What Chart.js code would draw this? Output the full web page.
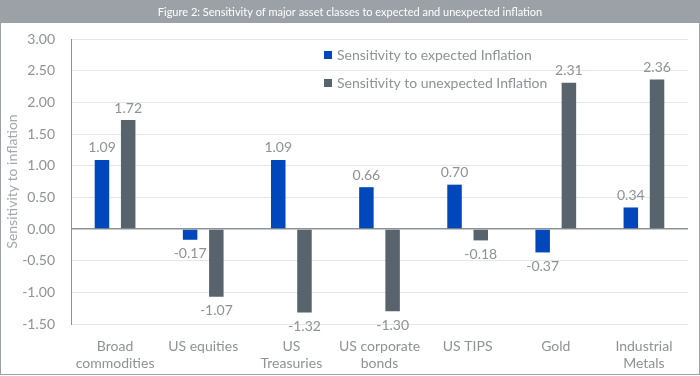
<!DOCTYPE html>
<html>
<head>
<meta charset="utf-8">
<script src="https://cdn.jsdelivr.net/npm/chart.js@4/dist/chart.umd.min.js"></script>
<style>
    html, body { margin: 0; padding: 0; background: #fff; }
    #wrap { width: 700px; height: 376px; position: relative; }
</style>
</head>
<body>
<div id="wrap"><canvas id="inflationChart" width="700" height="376"></canvas></div>
<script>
const chartTitle = 'Figure 2: Sensitivity of major asset classes to expected and unexpected inflation';
const categories = [
    ['Broad', 'commodities'], 'US equities', ['US', 'Treasuries'], ['US corporate', 'bonds'],
    'US TIPS', 'Gold', ['Industrial', 'Metals']
];
const seriesNames = ['Sensitivity to expected Inflation', 'Sensitivity to unexpected Inflation'];
const expectedValues = [1.09, -0.17, 1.09, 0.66, 0.70, -0.37, 0.34];
const unexpectedValues = [1.72, -1.07, -1.32, -1.30, -0.18, 2.31, 2.36];
const yTitle = 'Sensitivity to inflation';

const textGrey = '#8d9297';
const fontFamily = 'Lato, "Open Sans", sans-serif';

// Banner, frame and legend drawn by hand
const framePlugin = {
    id: 'frame',
    beforeDraw(chart) {
        const c = chart.ctx;
        c.save();
        c.fillStyle = '#fff';
        c.fillRect(0, 0, chart.width, chart.height);
        c.fillStyle = '#9ba1a7';
        c.fillRect(0, 0, chart.width, 23);
        c.fillStyle = '#7f858b';
        c.fillRect(0, 0, chart.width, 1);
        c.fillStyle = '#fff';
        c.font = '11px ' + fontFamily;
        c.textAlign = 'center';
        c.textBaseline = 'middle';
        c.fillText(chartTitle, 350, 12);
        c.strokeStyle = '#9ba1a7';
        c.lineWidth = 1;
        c.strokeRect(0.5, 0.5, chart.width - 1, chart.height - 2);
        c.restore();
    },
    afterDatasetsDraw(chart) {
        const c = chart.ctx;
        c.save();
        c.font = '14px ' + fontFamily;
        c.textBaseline = 'middle';
        c.textAlign = 'left';
        chart.data.datasets.forEach((ds, i) => {
            const y = 55 + i * 28;
            c.fillStyle = ds.backgroundColor;
            c.fillRect(324, y - 4, 8, 8);
            c.fillStyle = textGrey;
            c.fillText(ds.label, 337, y);
        });
        // value labels
        c.textAlign = 'center';
        chart.data.datasets.forEach((ds, i) => {
            const meta = chart.getDatasetMeta(i);
            meta.data.forEach((bar, j) => {
                const v = ds.data[j];
                const y = v >= 0 ? bar.y - 12 : bar.y + 14;
                c.fillStyle = textGrey;
                c.fillText(v.toFixed(2), bar.x, y);
            });
        });
        c.restore();
    }
};

new Chart(document.getElementById('inflationChart').getContext('2d'), {
    type: 'bar',
    data: {
        labels: categories,
        datasets: [
            { label: seriesNames[0], data: expectedValues, backgroundColor: '#0047bb' },
            { label: seriesNames[1], data: unexpectedValues, backgroundColor: '#58636c' }
        ]
    },
    options: {
        responsive: false,
        animation: false,
        layout: { padding: { top: 39, right: 12, left: 0, bottom: 0 } },
        categoryPercentage: 0.595,
        barPercentage: 0.553,
        plugins: { legend: { display: false }, tooltip: { enabled: false } },
        scales: {
            x: {
                grid: { display: false, drawTicks: false },
                border: { display: false },
                ticks: { color: textGrey, font: { family: fontFamily, size: 14 }, padding: 14, maxRotation: 0, autoSkip: false },
                afterFit: (s) => { s.height = 52; }
            },
            y: {
                min: -1.5,
                max: 3,
                ticks: {
                    stepSize: 0.5,
                    color: textGrey,
                    font: { family: fontFamily, size: 14 },
                    padding: 16,
                    callback: (v) => v.toFixed(2)
                },
                grid: {
                    drawTicks: false,
                    color: (ctx) => ctx.tick.value === 0 ? '#8d9297' : '#e6e6e6',
                    lineWidth: (ctx) => ctx.tick.value === 0 ? 1.5 : 1
                },
                border: { display: true, color: '#8d9297' },
                title: {
                    display: true,
                    text: yTitle,
                    color: '#a3a8ad',
                    font: { family: fontFamily, size: 14 },
                    padding: { top: 4, bottom: 0 }
                },
                afterFit: (s) => { s.width = 71; }
            }
        }
    },
    plugins: [framePlugin]
});
</script>
</body>
</html>
